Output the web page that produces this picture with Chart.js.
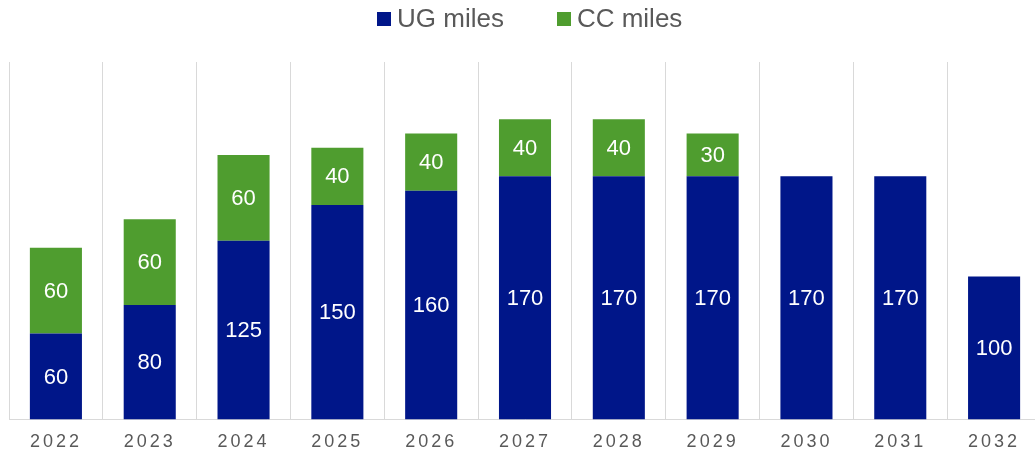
<!DOCTYPE html>
<html>
<head>
<meta charset="utf-8">
<script src="https://cdn.jsdelivr.net/npm/chart.js@4"></script>
<style>
  html, body { margin: 0; padding: 0; background: #fff; overflow: hidden; }
  #wrap { position: relative; width: 1041px; height: 454px; }
  #legend {
    position: absolute; left: 377px; top: 3px;
    display: flex; align-items: center;
    font-family: "Liberation Sans", Arial, sans-serif; font-size: 26px; color: #595959;
  }
  .item { display: flex; align-items: center; margin-right: 53px; }
  .box { width: 14px; height: 14px; margin-right: 6px; }
</style>
</head>
<body>
<div id="wrap">
  <canvas id="chart" width="1041" height="454"></canvas>
  <div id="legend"></div>
</div>
<script>
// 1. Data
const years = ["2022","2023","2024","2025","2026","2027","2028","2029","2030","2031","2032"];
const ugMiles = [60, 80, 125, 150, 160, 170, 170, 170, 170, 170, 100];
const ccMiles = [60, 60, 60, 40, 40, 40, 40, 30, 0, 0, 0];

const UG_COLOR = "#001689";
const CC_COLOR = "#4f9d2f";

// 2. Legend in HTML (spacing of the original is wider than Chart.js gives)
const legend = document.getElementById("legend");
[["UG miles", UG_COLOR], ["CC miles", CC_COLOR]].forEach(([txt, col]) => {
  const it = document.createElement("div");
  it.className = "item";
  it.innerHTML = `<span class="box" style="background:${col}"></span><span>${txt}</span>`;
  legend.appendChild(it);
});

// 3. Letter spacing for the year labels only
const spacedTicks = {
  id: "spacedTicks",
  beforeDraw(chart) { chart.ctx.letterSpacing = "3px"; },
  beforeDatasetsDraw(chart) { chart.ctx.letterSpacing = "0px"; }
};

// 4. White value labels in the middle of each segment
const valueLabels = {
  id: "valueLabels",
  afterDatasetsDraw(chart) {
    const ctx = chart.ctx;
    ctx.save();
    ctx.font = '22px "Liberation Sans", Arial, sans-serif';
    ctx.fillStyle = "#ffffff";
    ctx.textAlign = "center";
    ctx.textBaseline = "middle";
    chart.data.datasets.forEach((ds, i) => {
      chart.getDatasetMeta(i).data.forEach((bar, j) => {
        const v = ds.data[j];
        if (!v) return;
        ctx.fillText(v, bar.x, (bar.y + bar.base) / 2 + 1);
      });
    });
    ctx.restore();
  }
};

new Chart(document.getElementById("chart"), {
  type: "bar",
  data: {
    labels: years,
    datasets: [
      { label: "UG miles", data: ugMiles, backgroundColor: UG_COLOR, barPercentage: 0.555, categoryPercentage: 1 },
      { label: "CC miles", data: ccMiles, backgroundColor: CC_COLOR, barPercentage: 0.555, categoryPercentage: 1 }
    ]
  },
  options: {
    responsive: false,
    animation: false,
    layout: { padding: { top: 62, left: 9, right: 0, bottom: -11 } },
    plugins: { legend: { display: false }, tooltip: { enabled: false } },
    scales: {
      x: {
        stacked: true,
        grid: { color: "#d9d9d9", lineWidth: 1, offset: true, drawTicks: false },
        border: { color: "#d9d9d9", width: 1 },
        ticks: {
          color: "#595959",
          padding: 12,
          font: { family: '"Liberation Sans", Arial, sans-serif', size: 18 }
        }
      },
      y: { stacked: true, display: false, min: 0, max: 250 }
    }
  },
  plugins: [spacedTicks, valueLabels]
});
</script>
</body>
</html>
